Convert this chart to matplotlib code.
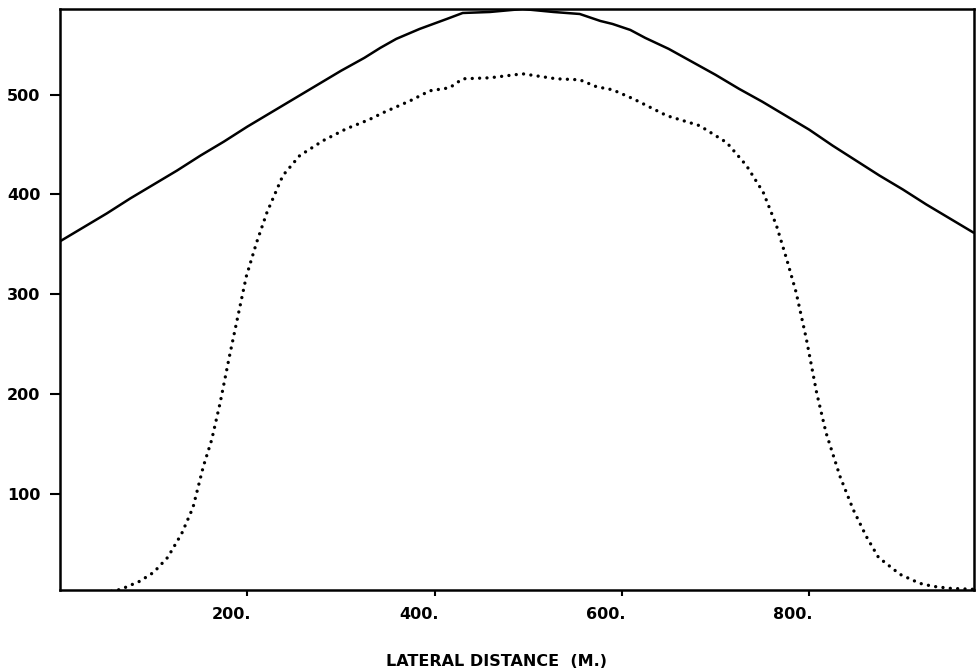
import matplotlib
matplotlib.use("Agg")
import matplotlib.pyplot as plt
import matplotlib.transforms as mtransforms

# Oberkurve (durchgezogen)
solid_x = [0, 25, 50, 75, 100, 125, 150, 175, 200, 225, 250, 275, 300, 325,
           342, 359, 384, 413, 430, 459, 494, 527, 555, 577, 590, 609, 625,
           650, 675, 700, 725, 750, 775, 800, 825, 850, 875, 900, 925, 950, 975]
solid_y = [353, 367, 381, 396, 410, 424, 439, 453, 468, 482, 496, 510, 524, 537,
           547, 556, 566, 576, 582, 583, 586, 583, 581, 574, 571, 565, 557,
           546, 533, 520, 506, 493, 479, 465, 449, 434, 419, 405, 390, 376, 362]

# Unterkurve (gepunktet)
dotted_x = [0, 25, 50, 65, 85, 100, 115, 130, 142, 153, 162, 171, 181, 190, 199,
            210, 221, 238, 256, 281, 306, 330, 345, 374, 395, 416, 430, 459, 494,
            530, 555, 573, 590, 612, 648, 683, 712, 733, 751, 765, 776, 786, 797,
            808, 818, 833, 847, 861, 874, 897, 918, 932, 950, 975]
dotted_y = [0, 0, 1, 4, 12, 21, 36, 60, 86, 127, 154, 191, 238, 278, 318,
            352, 382, 419, 439, 454, 466, 475, 482, 494, 504, 507, 516, 517, 521,
            516, 515, 508, 505, 496, 479, 469, 452, 429, 402, 369, 335, 302, 255,
            201, 161, 117, 84, 57, 36, 19, 10, 7, 5, 4]

x_ticks = [200, 400, 600, 800]
x_tick_labels = ["200.", "400.", "600.", "800."]
y_ticks = [100, 200, 300, 400, 500]
y_tick_labels = ["100", "200", "300", "400", "500"]

fig = plt.figure(figsize=(9.77, 6.71), dpi=100)
ax = fig.add_axes([60 / 977, 81 / 671, 914 / 977, 581 / 671])

ax.plot(solid_x, solid_y, color="black", linewidth=1.8)
ax.plot(dotted_x, dotted_y, color="black", linewidth=2.4,
        linestyle=(0, (0.01, 2.2)), dash_capstyle="round")

ax.set_xlim(0, 976)
ax.set_ylim(3.3, 586)

for side in ax.spines.values():
    side.set_linewidth(1.8)

ax.set_xticks(x_ticks)
ax.set_xticklabels(x_tick_labels)
ax.set_yticks(y_ticks)
ax.set_yticklabels(y_tick_labels)
ax.tick_params(axis="y", direction="out", length=7, width=1.5, pad=7)
ax.tick_params(axis="x", direction="out", length=4, width=1.5, pad=8)
for lab in ax.get_xticklabels() + ax.get_yticklabels():
    lab.set_fontfamily("DejaVu Sans")
    lab.set_fontweight("bold")
    lab.set_fontsize(11.5)

# Beschriftungen leicht nach links versetzt wie im Original
offset = mtransforms.ScaledTranslation(-16 / 100, 0, fig.dpi_scale_trans)
for lab in ax.get_xticklabels():
    lab.set_transform(lab.get_transform() + offset)

fig.text(497 / 977, 1 - 661 / 671, "LATERAL DISTANCE  (M.)", ha="center", va="center",
         fontsize=11.5, fontweight="bold", family="DejaVu Sans")

fig.savefig("out.png", dpi=100)
